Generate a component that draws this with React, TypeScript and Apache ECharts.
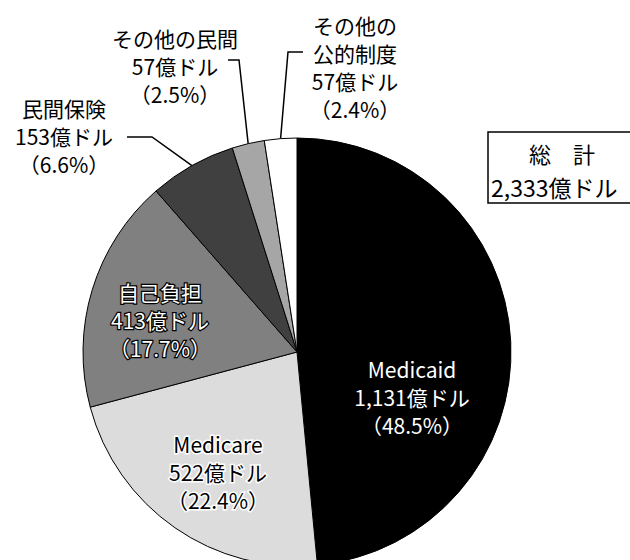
import React, { useEffect, useRef } from 'react';
import * as echarts from 'echarts';

// ---- data ----
const categories = ['Medicaid', 'Medicare', '自己負担', '民間保険', 'その他の民間', 'その他の公的制度'];
const labelNames = ['Medicaid', 'Medicare', '自己負担', '民間保険', 'その他の民間', 'その他の\n公的制度'];
const amounts = [1131, 522, 413, 153, 57, 57]; // 億ドル
const shares = [48.5, 22.4, 17.7, 6.6, 2.5, 2.4]; // %
const unit = '億ドル';
const totalTitle = '総　計';

// ---- styles / layout ----
const FONT = '"Noto Sans CJK JP", "Noto Sans", sans-serif';
const sliceColors = ['#000000', '#dcdcdc', '#808080', '#404040', '#a6a6a6', '#ffffff'];
const CX = 297;
const CY = 352;
const R = 214;

type LabelPos = { x: number; y: number; line?: number[][] };
const labelPos: Record<number, LabelPos> = {
  0: { x: 412, y: 397 },
  1: { x: 218, y: 472 },
  2: { x: 160, y: 320 },
  3: { x: 64, y: 136, line: [[152, 137], [127, 137]] },
  4: { x: 175, y: 66, line: [[239, 60], [228, 60]] },
  5: { x: 355, y: 67, line: [[288, 52], [303, 52]] },
};

const labelStyles: Record<number, any> = {
  0: { color: '#ffffff' },
  1: { color: '#000000', textBorderColor: '#ffffff', textBorderWidth: 3 },
  2: { color: '#ffffff', textBorderColor: '#000000', textBorderWidth: 2.5 },
  3: { color: '#000000' },
  4: { color: '#000000' },
  5: { color: '#000000' },
};

const total = amounts.reduce((a, b) => a + b, 0);

export default function App() {
  const ref = useRef<HTMLDivElement>(null);

  useEffect(() => {
    if (!ref.current) return;
    const chart = echarts.init(ref.current, undefined, { renderer: 'svg' });

    // fallback for slice edge point
    const edgePoint = (idx: number) => {
      let before = 0;
      for (let i = 0; i < idx; i++) before += amounts[i];
      const mid = ((before + amounts[idx] / 2) / total) * Math.PI * 2;
      return [CX + R * Math.sin(mid), CY - R * Math.cos(mid)];
    };

    const data = categories.map((c, i) => {
      const outside = i >= 3;
      return {
        name: c,
        value: amounts[i],
        itemStyle: { color: sliceColors[i] },
        label: {
          show: true,
          position: outside ? 'outside' : 'inside',
          ...labelStyles[i],
        },
        labelLine: {
          show: outside,
          lineStyle: { color: '#000', width: 1.5 },
          length: 10,
          length2: 10,
        },
      };
    });

    chart.setOption({
      animation: false,
      backgroundColor: '#ffffff',
      series: [
        {
          type: 'pie',
          center: [CX, CY],
          radius: R,
          startAngle: 90,
          clockwise: true,
          silent: true,
          avoidLabelOverlap: false,
          emphasis: { disabled: true },
          itemStyle: { borderColor: '#000', borderWidth: 1 },
          label: {
            fontFamily: FONT,
            fontSize: 21,
            lineHeight: 28,
            align: 'center',
            formatter: (p: any) => {
              const i = p.dataIndex;
              return `${labelNames[i]}\n${amounts[i].toLocaleString('en-US')}${unit}\n（${shares[i]}%）`;
            },
          },
          labelLayout: (params: any) => {
            const i = params.dataIndex;
            const pos = labelPos[i];
            const out: any = { x: pos.x, y: pos.y, align: 'center', verticalAlign: 'middle' };
            if (pos.line) {
              const start =
                params.labelLinePoints && params.labelLinePoints[0]
                  ? params.labelLinePoints[0]
                  : edgePoint(i);
              out.labelLinePoints = [start, ...pos.line];
            }
            return out;
          },
          data,
        },
      ],
      graphic: [
        {
          type: 'rect',
          shape: { x: 488, y: 132, width: 170, height: 71 },
          style: { fill: '#ffffff', stroke: '#000000', lineWidth: 1.5 },
          silent: true,
        },
        {
          type: 'text',
          x: 562,
          y: 153,
          style: {
            text: totalTitle,
            fontFamily: FONT,
            fontSize: 22,
            fill: '#000',
            align: 'center',
            verticalAlign: 'middle',
          },
        },
        {
          type: 'text',
          x: 491,
          y: 187,
          style: {
            text: `${total.toLocaleString('en-US')}${unit}`,
            fontFamily: FONT,
            fontSize: 23,
            fill: '#000',
            align: 'left',
            verticalAlign: 'middle',
          },
        },
      ],
    });

    return () => chart.dispose();
  }, []);

  return (
    <div
      ref={ref}
      style={{ position: 'fixed', left: 0, top: 0, width: 630, height: 560, background: '#fff' }}
    />
  );
}
